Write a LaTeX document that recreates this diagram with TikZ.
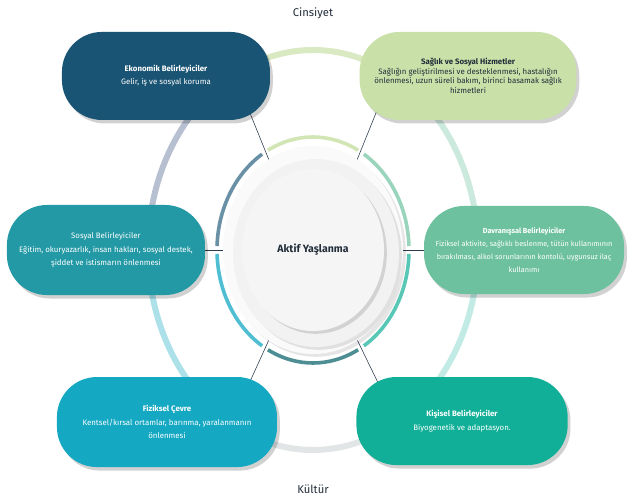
\documentclass[tikz,border=0pt]{standalone}
\usepackage{fontspec}
\setmainfont{Fira Sans}
\usepackage{tikz}
\usetikzlibrary{calc, shapes.geometric, shadows, backgrounds, positioning}
\definecolor{ecoBlue}{HTML}{1A5474}
\definecolor{healthGreen}{HTML}{C9E0A8}
\definecolor{socialTeal}{HTML}{2399A5}
\definecolor{behaviourGreen}{HTML}{6DC19F}
\definecolor{physicalCyan}{HTML}{14A8C3}
\definecolor{personalTeal}{HTML}{11AF97}
\definecolor{inkDark}{HTML}{222E3A}
\definecolor{linkDark}{HTML}{2A3B4C}
\definecolor{slateHalo}{HTML}{B7C0D0}

\begin{document}
\begin{tikzpicture}[x=0.025cm, y=0.025cm, node distance=4cm,
        box/.style={rectangle, rounded corners=1.0cm, text=white, align=center, inner sep=2pt,
            font=\fontsize{5.6}{9.6}\selectfont, minimum height=2.2cm,
            drop shadow={shadow xshift=2pt, shadow yshift=-2.5pt, opacity=0.18, fill=black}},
        disk/.style={ellipse, inner sep=0pt},
        ring/.style={line width=0.09cm},
        halo/.style={line width=0.15cm},
        link/.style={thin, color=linkDark, shorten <=-0.3cm},
        tag/.style={font=\fontsize{8}{9}\selectfont, text=inkDark}]

        % Layered hub disks
        \fill[black!2, drop shadow={shadow xshift=2pt, shadow yshift=-2pt, opacity=0.1, fill=black}] (313,250) ellipse [x radius=90, y radius=104];
        \fill[black!5, drop shadow={shadow xshift=2pt, shadow yshift=-2pt, opacity=0.1, fill=black}] (316,247) ellipse [x radius=83, y radius=94];

        % Coloured ring round the hub
        \draw[ring, color=behaviourGreen!70] ($(313,250)+(2:96 and 113)$) arc[start angle=2, end angle=58, x radius=96, y radius=113];
        \draw[ring, color=healthGreen!85] ($(313,250)+(62:96 and 113)$) arc[start angle=62, end angle=118, x radius=96, y radius=113];
        \draw[ring, color=ecoBlue!65] ($(313,250)+(122:96 and 113)$) arc[start angle=122, end angle=178, x radius=96, y radius=113];
        \draw[ring, color=physicalCyan!75] ($(313,250)+(182:96 and 113)$) arc[start angle=182, end angle=238, x radius=96, y radius=113];
        \draw[ring, color=socialTeal!55!gray] ($(313,250)+(242:96 and 113)$) arc[start angle=242, end angle=298, x radius=96, y radius=113];
        \draw[ring, color=personalTeal!70] ($(313,250)+(302:96 and 113)$) arc[start angle=302, end angle=358, x radius=96, y radius=113];

        % Centre
        \node[disk, fill=black!4, minimum width=3.55cm, minimum height=4.05cm, font=\fontsize{7.5}{9}\selectfont\bfseries, text=inkDark,
            drop shadow={shadow xshift=2pt, shadow yshift=-2pt, opacity=0.13, fill=black}] (core) at (313,250) {Aktif Yaşlanma};

        \node[tag, above of=core, node distance=5.925cm] (gender) {Cinsiyet};
        \node[tag, below of=core, node distance=5.975cm] (culture) {Kültür};

        % Determinant boxes
        \node[box, fill=ecoBlue, minimum width=5.2cm, left of=core, node distance=3.675cm, yshift=4.35cm] (eco)
            {\textbf{Ekonomik Belirleyiciler}\\Gelir, iş ve sosyal koruma};
        \node[box, fill=healthGreen, text=inkDark, font=\fontsize{5.6}{6.9}\selectfont, minimum width=5.42cm, right of=core, node distance=3.875cm, yshift=4.35cm] (sag)
            {\textbf{Sağlık ve Sosyal Hizmetler}\\Sağlığın geliştirilmesi ve desteklenmesi, hastalığın\\önlenmesi, uzun süreli bakım, birinci basamak sağlık\\hizmetleri};
        \node[box, fill=socialTeal, minimum width=4.95cm, minimum height=2.25cm, left of=core, node distance=5.175cm] (sos)
            {Sosyal Belirleyiciler\\Eğitim, okuryazarlık, insan hakları, sosyal destek,\\şiddet ve istismarın önlenmesi};
        \node[box, fill=behaviourGreen, font=\fontsize{5.2}{9.4}\selectfont, minimum width=5.0cm, right of=core, node distance=5.275cm] (dav)
            {\textbf{Davranışsal Belirleyiciler}\\Fiziksel aktivite, sağlıklı beslenme, tütün kullanımının\\bırakılması, alkol sorunlarının kontolü, uygunsuz ilaç\\kullanımı};
        \node[box, fill=physicalCyan, minimum width=5.5cm, minimum height=2.25cm, left of=core, node distance=3.65cm, yshift=-4.3cm] (fiz)
            {\textbf{Fiziksel Çevre}\\Kentsel/kırsal ortamlar, barınma, yaralanmanın\\önlenmesi};
        \node[box, fill=personalTeal, minimum width=5.28cm, right of=core, node distance=3.725cm, yshift=-4.275cm] (kis)
            {\textbf{Kişisel Belirleyiciler}\\Biyogenetik ve adaptasyon.};

        % Links to the hub
        \coordinate (hub-dav) at ($(core.center)+(0:86 and 101)$);
        \coordinate (hub-sag) at ($(core.center)+(60:86 and 101)$);
        \coordinate (hub-eco) at ($(core.center)+(120:86 and 101)$);
        \coordinate (hub-sos) at ($(core.center)+(180:86 and 101)$);
        \coordinate (hub-fiz) at ($(core.center)+(240:86 and 101)$);
        \coordinate (hub-kis) at ($(core.center)+(300:86 and 101)$);

        \begin{pgfonlayer}{background}
            \fill[white] (0,0) rectangle (627,500);
            % Outer ring
            \draw[halo, color=behaviourGreen!35] ($(core.center)+(0:165 and 200)$) arc[start angle=0, end angle=60, x radius=165, y radius=200];
            \draw[halo, color=healthGreen!70] ($(core.center)+(60:165 and 200)$) arc[start angle=60, end angle=120, x radius=165, y radius=200];
            \draw[halo, color=slateHalo] ($(core.center)+(120:165 and 200)$) arc[start angle=120, end angle=180, x radius=165, y radius=200];
            \draw[halo, color=physicalCyan!35] ($(core.center)+(180:165 and 200)$) arc[start angle=180, end angle=240, x radius=165, y radius=200];
            \draw[halo, color=socialTeal!25!black!12] ($(core.center)+(240:165 and 200)$) arc[start angle=240, end angle=300, x radius=165, y radius=200];
            \draw[halo, color=personalTeal!25] ($(core.center)+(300:165 and 200)$) arc[start angle=300, end angle=360, x radius=165, y radius=200];

            \draw[link] (eco.-27) -- (hub-eco);
            \draw[link] (sag.-155) -- (hub-sag);
            \draw[link] (sos.east) -- (hub-sos);
            \draw[link] (dav.west) -- (hub-dav);
            \draw[link] (fiz.28) -- (hub-fiz);
            \draw[link] (kis.153) -- (hub-kis);
        \end{pgfonlayer}

        \useasboundingbox (0,0) rectangle (627,500);
    \end{tikzpicture}
\end{document}
